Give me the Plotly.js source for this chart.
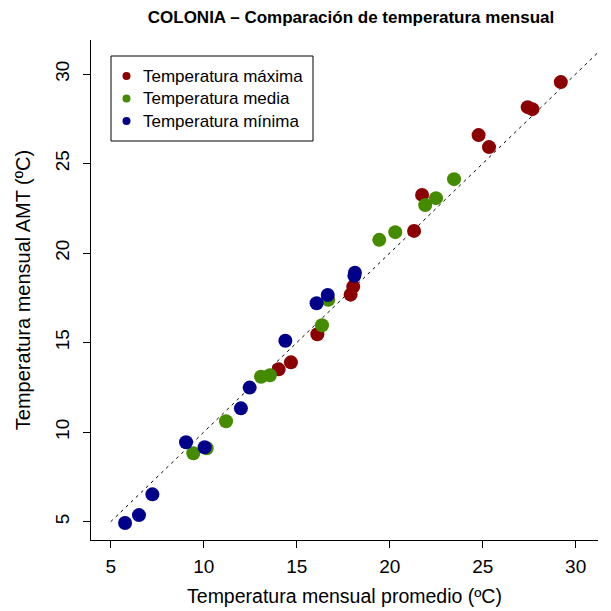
<!DOCTYPE html>
<html><head><meta charset="utf-8">
<script src="https://cdn.plot.ly/plotly-3.0.1.min.js"></script>
<style>body{margin:0;background:#fff}#c{width:611px;height:611px}</style>
</head><body><div id="c"></div>
<script>
const maxX = [14.69,14.03,16.11,17.90,18.04,21.31,21.74,25.34,24.78,27.42,27.67,29.20];
const maxY = [13.90,13.51,15.47,17.68,18.13,21.24,23.25,25.92,26.59,28.15,28.04,29.55];
const medX = [9.44,10.16,11.20,13.08,13.56,16.36,16.70,19.44,20.30,21.91,22.49,23.46];
const medY = [8.82,9.10,10.61,13.10,13.18,15.97,17.39,20.74,21.17,22.68,23.07,24.13];
const minX = [5.77,6.52,7.24,9.05,10.05,12.00,12.47,14.39,16.07,16.67,18.10,18.13];
const minY = [4.93,5.37,6.53,9.44,9.16,11.33,12.49,15.11,17.20,17.66,18.73,18.91];
const refLine = [5, 35];
const names = ["Temperatura máxima","Temperatura media","Temperatura mínima"];
const colors = ["#8B0000","#458B00","#00008B"];
const xTicks = [5,10,15,20,25,30];
const yTicks = [5,10,15,20,25,30];

const font = {family: "Liberation Sans, Arial, sans-serif", color: "#000"};
const series = [[maxX,maxY],[medX,medY],[minX,minY]];
const traces = [{
  x: refLine, y: refLine, mode: "lines", showlegend: false, hoverinfo: "skip",
  line: {color: "#000", width: 1, dash: "3px,4px"}
}];
series.forEach((s,i)=>{
  traces.push({x: s[0], y: s[1], mode: "markers", showlegend: false,
    marker: {color: colors[i], size: 14, line: {width: 0}}});
});

// manual legend in pixel-like overlay axes (x2: 91..598, y2: 540..40)
const legRowY = [76, 98.5, 121];
const legMarkX = 126.5, legTextX = 141;
traces.push({x: names.map(()=>legMarkX), y: legRowY, xaxis: "x2", yaxis: "y2",
  mode: "markers", showlegend: false, hoverinfo: "skip",
  marker: {color: colors, size: 8, line: {width: 0}}});
const annotations = names.map((n,i)=>({
  xref: "x2", yref: "y2", x: legTextX, y: legRowY[i], text: n, showarrow: false,
  xanchor: "left", yanchor: "middle", font: Object.assign({size: 17}, font)
}));

const layout = {
  width: 611, height: 611,
  margin: {l: 91, r: 13, t: 40, b: 71, pad: 0},
  paper_bgcolor: "#fff", plot_bgcolor: "rgba(0,0,0,0)",
  font: Object.assign({size: 16}, font),
  showlegend: false,
  title: {text: "<b>COLONIA – Comparación de temperatura mensual</b>",
    font: Object.assign({size: 17}, font), x: 0.5745, xanchor: "center", xref: "container",
    y: 0.972, yanchor: "middle", yref: "container"},
  xaxis: {range: [3.94, 31.2], tickvals: xTicks, ticktext: xTicks.map(String),
    showgrid: false, zeroline: false, showline: true, linecolor: "#000", linewidth: 1,
    ticks: "outside", ticklen: 7, tickcolor: "#000", tickfont: Object.assign({size: 19}, font),
    ticklabelstandoff: 2,
    title: {text: "Temperatura mensual promedio (ºC)", font: Object.assign({size: 19.5}, font), standoff: 13}},
  yaxis: {range: [3.98, 31.9], tickvals: yTicks, ticktext: yTicks.map(String), tickangle: -90,
    showgrid: false, zeroline: false, showline: true, linecolor: "#000", linewidth: 1,
    ticks: "outside", ticklen: 7, tickcolor: "#000", tickfont: Object.assign({size: 19}, font),
    ticklabelstandoff: 6,
    title: {text: "Temperatura mensual AMT (ºC)", font: Object.assign({size: 20}, font), standoff: 16}},
  xaxis2: {overlaying: "x", range: [91, 598], visible: false, fixedrange: true},
  yaxis2: {overlaying: "y", range: [540, 40], visible: false, fixedrange: true},
  shapes: [{type: "rect", xref: "x2", yref: "y2", x0: 111, x1: 313, y0: 56, y1: 141,
    line: {color: "#000", width: 1}, fillcolor: "rgba(0,0,0,0)"}],
  annotations: annotations
};
Plotly.newPlot("c", traces, layout, {displayModeBar: false, staticPlot: true});
</script></body></html>
